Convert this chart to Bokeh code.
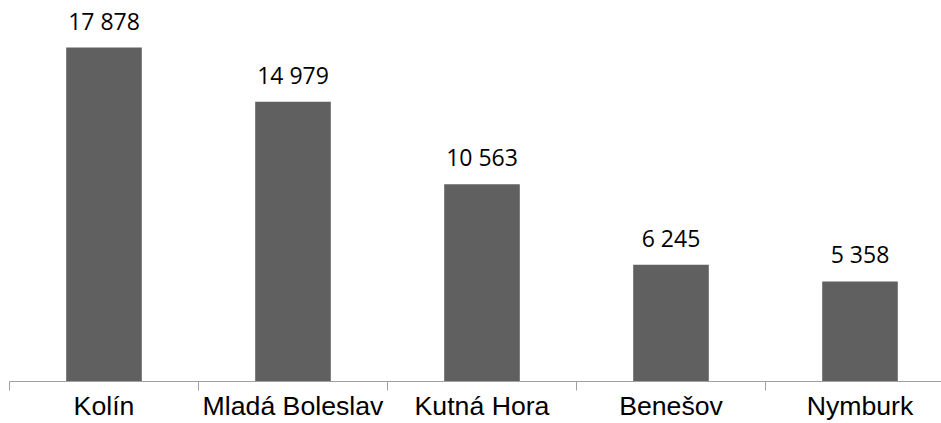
from bokeh.plotting import figure
from bokeh.models import Range1d, FixedTicker, ColumnDataSource
from bokeh.core.properties import value
from bokeh.embed import file_html
from bokeh.resources import INLINE

categories = ["Kolín", "Mladá Boleslav", "Kutná Hora", "Benešov", "Nymburk"]
values = [17878, 14979, 10563, 6245, 5358]

centers = [i + 0.5 for i in range(len(categories))]
labels = [f"{v:,}".replace(",", " ") for v in values]

src = ColumnDataSource(dict(x=centers, top=values, label=labels))

p = figure(width=941, height=423, output_backend="svg", toolbar_location=None,
           x_range=Range1d(0, 932 / 189), y_range=Range1d(0, 20400),
           min_border_left=9, min_border_right=0, min_border_top=0, min_border_bottom=0)
p.outline_line_color = None
p.background_fill_color = "white"
p.border_fill_color = "white"
p.grid.visible = False
p.yaxis.visible = False

p.vbar(x="x", top="top", bottom=0, width=0.4, source=src,
       fill_color="#606060", line_color=None)

p.text(x="x", y="top", text="label", source=src, text_align="center",
       text_baseline="alphabetic", y_offset=-27, text_font=value("Open Sans"),
       text_font_size="23px", text_color="#000000")

ax = p.xaxis[0]
ax.ticker = FixedTicker(ticks=centers, minor_ticks=list(range(len(categories) + 1)))
ax.major_label_overrides = {c: lab for c, lab in zip(centers, categories)}
ax.major_tick_line_color = None
ax.major_tick_out = 0
ax.major_tick_in = 0
ax.minor_tick_line_color = "#a0a0a0"
ax.minor_tick_out = 9
ax.minor_tick_in = 0
ax.axis_line_color = "#a0a0a0"
ax.axis_line_width = 1
ax.major_label_text_font = "Liberation Sans"
ax.major_label_text_font_size = "26.67px"
ax.major_label_text_color = "#000000"
ax.major_label_standoff = 0

open("out.html", "w").write(file_html(p, INLINE))
